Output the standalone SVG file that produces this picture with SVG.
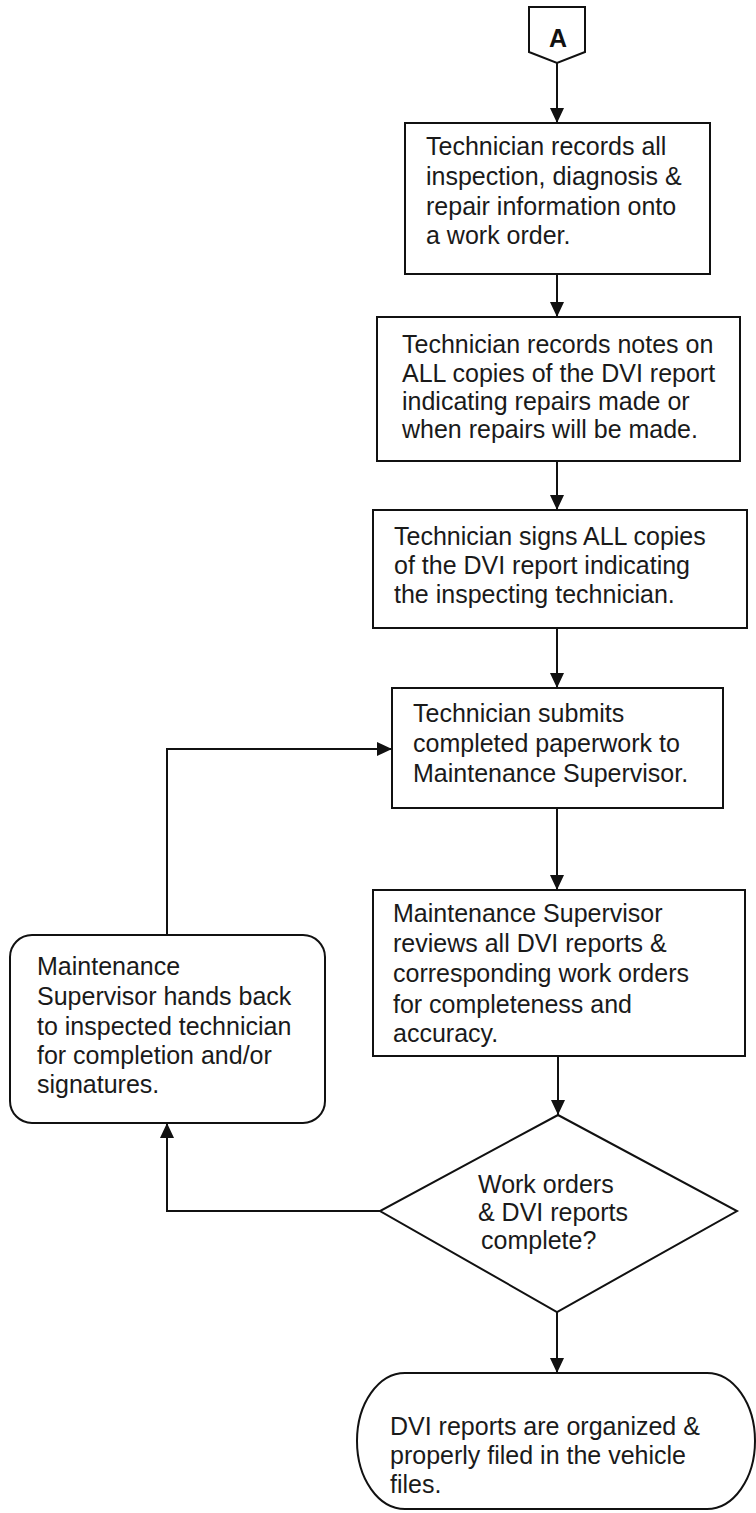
<svg xmlns="http://www.w3.org/2000/svg" width="756" height="1513" viewBox="0 0 756 1513">
  <defs>
    <marker id="arrow" viewBox="0 0 15 14" refX="15" refY="7" markerWidth="15" markerHeight="14" markerUnits="userSpaceOnUse" orient="auto">
      <path d="M0,0 L15,7 L0,14 z" fill="#111"/>
    </marker>
    <style>
      .shape { fill: #fff; stroke: #111; stroke-width: 2; }
      .label { font-family: "Liberation Sans", Arial, sans-serif; font-size: 25px; fill: #1a1a1a; }
      .conn { fill: none; stroke: #111; stroke-width: 2; marker-end: url(#arrow); }
    </style>
  </defs>

  <rect width="756" height="1513" fill="#fff"/>

  <!-- Off-page connector -->
  <g id="connector-a">
    <path class="shape" d="M529,7 L585,7 L585,52 L557,63 L529,52 Z"/>
    <text x="558" y="47" text-anchor="middle" font-family="'Liberation Sans', Arial, sans-serif" font-size="25" font-weight="bold" fill="#111">A</text>
  </g>

  <g id="record-work-order">
    <rect class="shape" x="405" y="123" width="305" height="151"/>
    <text class="label" x="426" y="155">Technician records all</text>
    <text class="label" x="426" y="185">inspection, diagnosis &amp;</text>
    <text class="label" x="426" y="215">repair information onto</text>
    <text class="label" x="426" y="244">a work order.</text>
  </g>

  <g id="record-notes">
    <rect class="shape" x="377" y="317" width="363" height="144"/>
    <text class="label" x="402" y="353">Technician records notes on</text>
    <text class="label" x="402" y="382">ALL copies of the DVI report</text>
    <text class="label" x="402" y="410">indicating repairs made or</text>
    <text class="label" x="402" y="438">when repairs will be made.</text>
  </g>

  <g id="sign-copies">
    <rect class="shape" x="373" y="510" width="374" height="118"/>
    <text class="label" x="394" y="545">Technician signs ALL copies</text>
    <text class="label" x="394" y="574">of the DVI report indicating</text>
    <text class="label" x="394" y="603">the inspecting technician.</text>
  </g>

  <g id="submit-paperwork">
    <rect class="shape" x="392" y="688" width="331" height="120"/>
    <text class="label" x="413" y="722">Technician submits</text>
    <text class="label" x="413" y="752">completed paperwork to</text>
    <text class="label" x="413" y="782">Maintenance Supervisor.</text>
  </g>

  <g id="supervisor-review">
    <rect class="shape" x="373" y="890" width="372" height="166"/>
    <text class="label" x="393" y="922">Maintenance Supervisor</text>
    <text class="label" x="393" y="952">reviews all DVI reports &amp;</text>
    <text class="label" x="393" y="982">corresponding work orders</text>
    <text class="label" x="393" y="1013">for completeness and</text>
    <text class="label" x="393" y="1042">accuracy.</text>
  </g>

  <g id="hand-back">
    <rect class="shape" x="10" y="935" width="315" height="188" rx="22" ry="22"/>
    <text class="label" x="37" y="975">Maintenance</text>
    <text class="label" x="37" y="1005">Supervisor hands back</text>
    <text class="label" x="37" y="1035">to inspected technician</text>
    <text class="label" x="37" y="1064">for completion and/or</text>
    <text class="label" x="37" y="1093">signatures.</text>
  </g>

  <g id="complete-decision">
    <path class="shape" d="M558,1115 L737,1211 L557,1312 L380,1211 Z"/>
    <text class="label" x="478" y="1193">Work orders</text>
    <text class="label" x="478" y="1221">&amp; DVI reports</text>
    <text class="label" x="481" y="1249">complete?</text>
  </g>

  <g id="file-reports">
    <rect class="shape" x="357" y="1373" width="398" height="136" rx="48" ry="68"/>
    <text class="label" x="390" y="1435">DVI reports are organized &amp;</text>
    <text class="label" x="390" y="1464">properly filed in the vehicle</text>
    <text class="label" x="390" y="1493">files.</text>
  </g>

  <g id="connectors">
    <path class="conn" d="M557,63 L557,123"/>
    <path class="conn" d="M557,274 L557,317"/>
    <path class="conn" d="M557,461 L557,510"/>
    <path class="conn" d="M557,628 L557,688"/>
    <path class="conn" d="M557,808 L557,890"/>
    <path class="conn" d="M558,1056 L558,1115"/>
    <path class="conn" d="M380,1211 L167,1211 L167,1123"/>
    <path class="conn" d="M167,935 L167,749 L392,749"/>
    <path class="conn" d="M557,1312 L557,1373"/>
  </g>
</svg>
